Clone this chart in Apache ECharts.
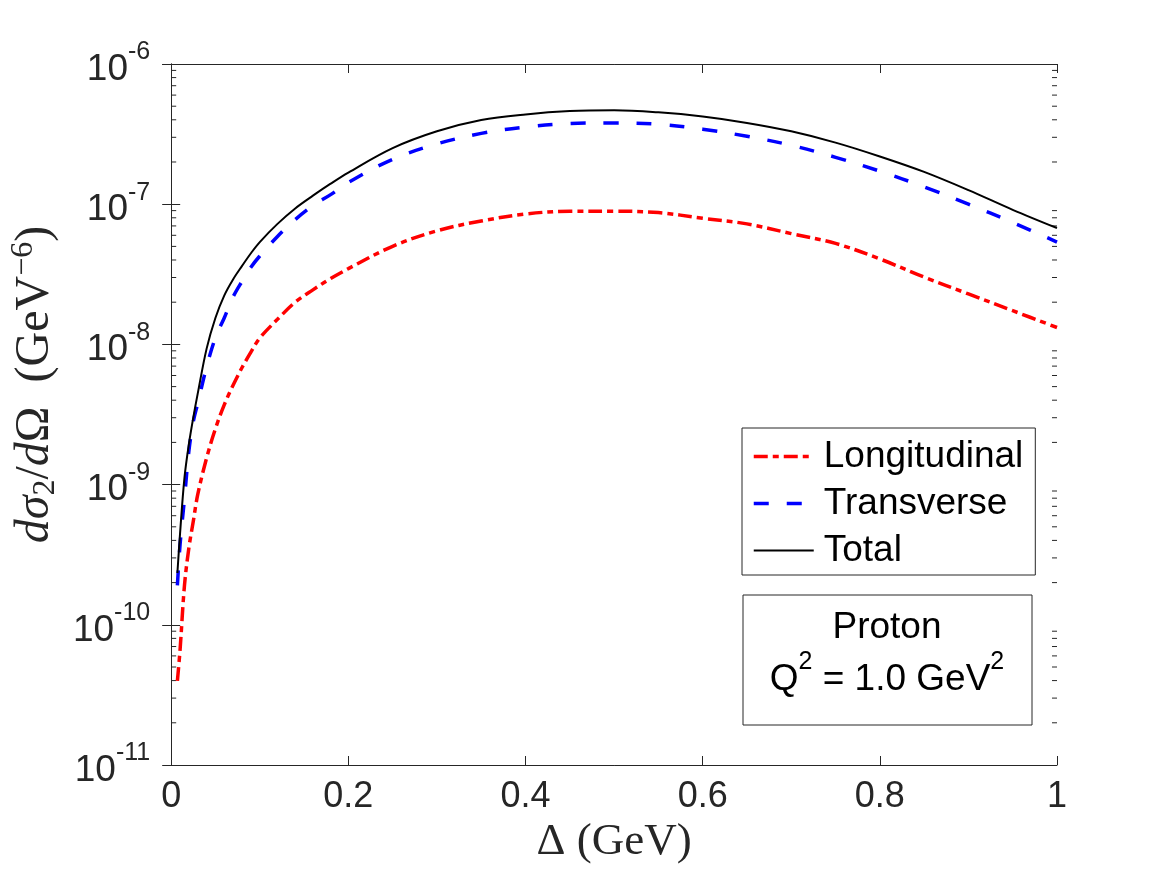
<!DOCTYPE html>
<html>
<head>
<meta charset="utf-8">
<script src="https://cdn.jsdelivr.net/npm/echarts@6/dist/echarts.min.js"></script>
<style>
  html, body { margin: 0; padding: 0; background: #fff; }
  #chart { width: 1167px; height: 875px; }
</style>
</head>
<body>
<div id="chart"></div>
<script>
// Delta (GeV)
var delta = [0.007, 0.01, 0.015, 0.02, 0.025, 0.03, 0.04, 0.05, 0.06, 0.07, 0.08, 0.09,
  0.1, 0.12, 0.14, 0.16, 0.18, 0.2, 0.25, 0.3, 0.35, 0.4, 0.45, 0.5, 0.55, 0.6,
  0.65, 0.7, 0.75, 0.8, 0.85, 0.9, 0.95, 1.0];

// d sigma_2 / d Omega (GeV^-6)
var longitudinal = [3.98e-11, 6.61e-11, 1.91e-10, 3.55e-10, 5.50e-10, 8.51e-10, 1.55e-9, 2.51e-9,
  3.72e-9, 5.13e-9, 6.84e-9, 8.81e-9, 1.11e-8, 1.51e-8, 2.00e-8, 2.45e-8, 2.95e-8, 3.47e-8,
  5.01e-8, 6.46e-8, 7.59e-8, 8.51e-8, 8.91e-8, 8.91e-8, 8.71e-8, 7.94e-8, 7.24e-8, 6.17e-8,
  5.25e-8, 4.07e-8, 3.02e-8, 2.29e-8, 1.74e-8, 1.32e-8];

var transverse = [1.91e-10, 3.72e-10, 7.94e-10, 1.74e-9, 2.82e-9, 3.80e-9, 6.92e-9, 1.12e-8,
  1.55e-8, 2.19e-8, 2.82e-8, 3.55e-8, 4.27e-8, 5.89e-8, 7.76e-8, 9.77e-8, 1.17e-7, 1.43e-7,
  2.09e-7, 2.69e-7, 3.20e-7, 3.55e-7, 3.76e-7, 3.80e-7, 3.72e-7, 3.43e-7, 3.05e-7, 2.63e-7,
  2.16e-7, 1.72e-7, 1.33e-7, 1.00e-7, 7.41e-8, 5.37e-8];

var total = [2.34e-10, 4.47e-10, 1.12e-9, 1.95e-9, 3.02e-9, 4.47e-9, 9.33e-9, 1.55e-8,
  2.24e-8, 2.92e-8, 3.63e-8, 4.47e-8, 5.37e-8, 7.24e-8, 9.33e-8, 1.15e-7, 1.40e-7, 1.68e-7,
  2.51e-7, 3.31e-7, 3.98e-7, 4.37e-7, 4.62e-7, 4.68e-7, 4.52e-7, 4.22e-7, 3.80e-7, 3.31e-7,
  2.75e-7, 2.19e-7, 1.70e-7, 1.26e-7, 9.12e-8, 6.76e-8];

// minor tick positions on the log axis
var minorTicks = [];
[1e-11, 1e-10, 1e-9, 1e-8, 1e-7].forEach(function (d) {
  [2, 3, 4, 5, 6, 7, 8, 9].forEach(function (m) { minorTicks.push([0, m * d]); });
});

var pair = function (ys) {
  return delta.map(function (x, i) { return [x, ys[i]]; });
};

var axisColor = '#262626';
var sans = 'Liberation Sans, Arial, Helvetica, sans-serif';
var serif = 'Liberation Serif, Times New Roman, serif';

var chart = echarts.init(document.getElementById('chart'));

var option = {
  animation: false,
  backgroundColor: '#fff',
  grid: { left: 168, right: 110, top: 64, bottom: 110 },
  legend: {
    orient: 'vertical',
    left: 742,
    top: 428,
    itemWidth: 60,
    itemHeight: 14,
    itemGap: 10,
    padding: [10, 12, 6, 10],
    borderColor: axisColor,
    borderWidth: 1,
    backgroundColor: '#fff',
    itemStyle: { opacity: 0 },
    lineStyle: { width: 'inherit' },
    textStyle: { fontFamily: sans, fontSize: 37, color: '#000', padding: [0, 0, 0, 5] },
    data: ['Longitudinal', 'Transverse', 'Total']
  },
  xAxis: [{
    type: 'value',
    min: 0, max: 1, interval: 0.2,
    name: '{g|Δ (GeV)}',
    nameLocation: 'middle',
    nameGap: 48,
    nameTextStyle: { rich: { g: { fontFamily: serif, fontSize: 45, color: axisColor } } },
    axisLine: { lineStyle: { color: axisColor, width: 1 } },
    axisTick: { inside: true, length: 9, lineStyle: { color: axisColor } },
    axisLabel: { margin: 14, fontFamily: sans, fontSize: 36, color: axisColor },
    splitLine: { show: false }
  }, {
    type: 'value',
    position: 'top',
    min: 0, max: 1, interval: 0.2,
    axisLine: { lineStyle: { color: axisColor, width: 1 } },
    axisTick: { inside: true, length: 9, lineStyle: { color: axisColor } },
    axisLabel: { show: false },
    splitLine: { show: false }
  }],
  yAxis: [{
    type: 'log',
    logBase: 10,
    min: 1e-11, max: 1e-6,
    name: '{sp|}{i|dσ}{sub|2}{n|/}{i|d}{n|Ω  (GeV}{sup|−6}{n|)}',
    nameLocation: 'middle',
    nameGap: 104,
    nameTextStyle: {
      rich: {
        sp: { width: 60 },
        i: { fontFamily: serif, fontStyle: 'italic', fontSize: 48, color: axisColor, lineHeight: 54 },
        n: { fontFamily: serif, fontSize: 48, color: axisColor, lineHeight: 54 },
        sub: { fontFamily: serif, fontSize: 32, color: axisColor, verticalAlign: 'bottom', lineHeight: 44 },
        sup: { fontFamily: serif, fontSize: 32, color: axisColor, verticalAlign: 'top', lineHeight: 30 }
      }
    },
    axisLine: { show: true, lineStyle: { color: axisColor, width: 1 } },
    axisTick: { inside: true, length: 9, lineStyle: { color: axisColor } },
    axisLabel: {
      margin: 21,
      formatter: function (v) {
        return '{b|10}{s|' + Math.round(Math.log10(v)) + '}';
      },
      rich: {
        b: { fontFamily: sans, fontSize: 37, color: axisColor, lineHeight: 48, verticalAlign: 'bottom' },
        s: { fontFamily: sans, fontSize: 25, color: axisColor, lineHeight: 48, verticalAlign: 'top' }
      }
    },
    splitLine: { show: false }
  }, {
    type: 'log',
    logBase: 10,
    position: 'right',
    min: 1e-11, max: 1e-6,
    axisLine: { show: true, lineStyle: { color: axisColor, width: 1 } },
    axisTick: { inside: true, length: 9, lineStyle: { color: axisColor } },
    axisLabel: { show: false },
    splitLine: { show: false }
  }],
  graphic: [{
    type: 'rect',
    shape: { x: 743, y: 595, width: 289, height: 130 },
    style: { fill: '#fff', stroke: axisColor, lineWidth: 1 },
    z: 100
  }, {
    type: 'text',
    x: 887, y: 628,
    style: {
      text: 'Proton', fontFamily: sans, fontSize: 37, fill: '#000',
      align: 'center', verticalAlign: 'middle'
    },
    z: 101
  }, {
    type: 'text',
    x: 887, y: 674,
    style: {
      text: '{b|Q}{s|2}{b| = 1.0 GeV}{s|2}',
      align: 'center', verticalAlign: 'middle',
      rich: {
        b: { fontFamily: sans, fontSize: 37, fill: '#000', lineHeight: 48, verticalAlign: 'bottom' },
        s: { fontFamily: sans, fontSize: 25, fill: '#000', lineHeight: 48, verticalAlign: 'top' }
      }
    },
    z: 101
  }],
  series: [{
    name: 'Longitudinal',
    type: 'line',
    data: pair(longitudinal),
    symbol: 'none',
    smooth: 0.35,
    lineStyle: { color: '#ff0000', width: 3.5, type: [14, 5, 6, 5] },
    itemStyle: { color: '#ff0000' }
  }, {
    name: 'Transverse',
    type: 'line',
    data: pair(transverse),
    symbol: 'none',
    smooth: 0.35,
    lineStyle: { color: '#0000ff', width: 3.5, type: [15, 18] },
    itemStyle: { color: '#0000ff' }
  }, {
    name: 'Total',
    type: 'line',
    data: pair(total),
    symbol: 'none',
    smooth: 0.35,
    lineStyle: { color: '#000000', width: 2, type: 'solid' },
    itemStyle: { color: '#000000' }
  }, {
    name: 'minor',
    type: 'custom',
    silent: true,
    clip: false,
    data: minorTicks,
    renderItem: function (params, api) {
      var left = api.coord([0, api.value(1)]);
      var right = api.coord([1, api.value(1)]);
      var y = left[1];
      return {
        type: 'group',
        children: [{
          type: 'line',
          shape: { x1: left[0], y1: y, x2: left[0] + 5, y2: y },
          style: { stroke: axisColor, lineWidth: 1 }
        }, {
          type: 'line',
          shape: { x1: right[0], y1: y, x2: right[0] - 5, y2: y },
          style: { stroke: axisColor, lineWidth: 1 }
        }]
      };
    }
  }]
};

chart.setOption(option);
</script>
</body>
</html>
